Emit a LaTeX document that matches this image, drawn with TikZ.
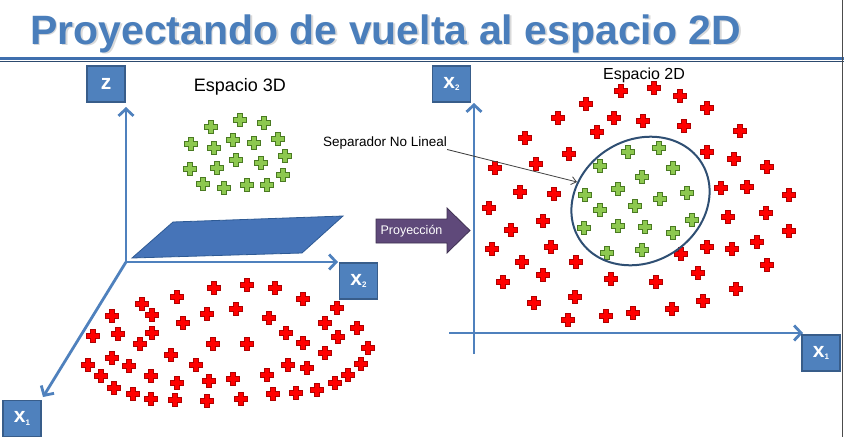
\documentclass[tikz,border=0pt]{standalone}
\usepackage{fontspec}
\setmainfont{Liberation Sans}
\usetikzlibrary{arrows.meta}
\definecolor{tblue}{HTML}{4A7EBB}
\definecolor{boxblue}{HTML}{4F81BD}
\definecolor{boxedge}{HTML}{385D8A}
\definecolor{axblue}{HTML}{4F81BD}
\definecolor{planeblue}{HTML}{4674B8}
\definecolor{planeedge}{HTML}{2E5A94}
\definecolor{purp}{HTML}{5F497A}
\definecolor{purpedge}{HTML}{3F3151}
\definecolor{rdark}{HTML}{B00000}
\definecolor{glight}{HTML}{8DC84F}
\definecolor{gdark}{HTML}{4A7A22}
\definecolor{elledge}{HTML}{2F4F73}
\definecolor{hline}{HTML}{3F6FAE}
\begin{document}
\begin{tikzpicture}[x=1pt,y=-1pt,
  axisbox/.style={draw=boxedge, fill=boxblue, line width=1.2pt, minimum width=38pt, minimum height=36pt, inner sep=0pt, text=white, font=\fontsize{21}{21}\selectfont\bfseries},
  axisline/.style={draw=axblue, line width=2.8pt, -{Straight Barb[length=7pt,width=15pt]}},
  lbl/.style={inner sep=0pt, text=black},
  rplus/.pic={\path[draw=rdark, fill=red, line width=0.7pt] (-2.3,-6.2) -- (2.3,-6.2) -- (2.3,-2.3) -- (6.2,-2.3) -- (6.2,2.3) -- (2.3,2.3) -- (2.3,6.2) -- (-2.3,6.2) -- (-2.3,2.3) -- (-6.2,2.3) -- (-6.2,-2.3) -- (-2.3,-2.3) -- cycle;},
  gplus/.pic={\path[draw=gdark, fill=glight, line width=0.8pt] (-2.2,-6.2) -- (2.2,-6.2) -- (2.2,-2.2) -- (6.2,-2.2) -- (6.2,2.2) -- (2.2,2.2) -- (2.2,6.2) -- (-2.2,6.2) -- (-2.2,2.2) -- (-6.2,2.2) -- (-6.2,-2.2) -- (-2.2,-2.2) -- cycle;}
]
\useasboundingbox (0,0) rectangle (844,437);
\fill[white] (0,0) rectangle (844,437);

% title
\node[anchor=base west, inner sep=0pt, font=\fontsize{41}{41}\selectfont\bfseries, text=gray!30] (titleshadow) at (31.6,45.6) {Proyectando de vuelta al espacio 2D};
\node[anchor=base west, inner sep=0pt, font=\fontsize{41}{41}\selectfont\bfseries, text=tblue] (title) at (30,44) {Proyectando de vuelta al espacio 2D};
\draw[hline, line width=2.3pt] (0,58.5) -- (844,58.5);
\draw[boxedge!80!black, line width=0.9pt] (0,61.8) -- (844,61.8);
\draw[gray!60!black, line width=0.8pt] (842.8,0) -- (842.8,437);

% ---------- 3D space ----------
\fill[planeblue, draw=planeedge, line width=0.8pt] (132,258) -- (173,222) -- (343,216) -- (302,253) -- cycle;

\coordinate (o3) at (126,262);
\coordinate (zt) at (126,107);
\coordinate (x2t) at (338,262);
\coordinate (x1t) at (43,397);
\draw[axisline] (o3) -- (zt);
\draw[axisline] (o3) -- (x2t);
\draw[axisline] (o3) -- (x1t);

\node[axisbox] (zbox) at (106,84) {z};
\node[axisbox] (x2box3) at (358.5,281) {x\raisebox{-0.25ex}{\fontsize{8}{8}\selectfont 2}};
\node[axisbox] (x1box3) at (22,418.5) {x\raisebox{-0.25ex}{\fontsize{8}{8}\selectfont 1}};

\node[lbl, font=\fontsize{18}{18}\selectfont] (esp3) at (240,87) {Espacio 3D};

\foreach \a/\b in {211/127,240/120,264/123,191/144,214/148,233/140,254/143,278/139,285/156,190/169,217/168,236/160,261/163,283/175,203/184,224/188,247/185,267/185}
  \pic at (\a,\b) {gplus};

\foreach \a/\b in {214/288,247/285,275/288,177/297,142/304,303/299,337/308,112/316,152/315,207/314,236/309,269/318,183/323,325/323,357/328,93/336,118/334,152/333,286/333,338/337,140/344,213/344,247/344,303/343,368/348,171/355,325/353,88/365,112/358,129/366,196/365,288/365,307/368,361/364,101/376,151/376,177/383,209/381,233/379,267/375,348/375,114/388,133/394,151/399,175/400,207/401,241/399,273/394,296/393,317/390,335/383}
  \pic at (\a,\b) {rplus};

% ---------- projection arrow ----------
\fill[purp, draw=purpedge, line width=0.8pt] (376,219) -- (447,219) -- (447,208) -- (470,230.5) -- (447,253) -- (447,243) -- (376,243) -- cycle;
\node[inner sep=0pt, text=white, font=\fontsize{12.5}{12.5}\selectfont] (proy) at (411.5,231) {Proyección};

% ---------- 2D space ----------
\coordinate (v0) at (474,354);
\coordinate (vt) at (474,103);
\coordinate (h0) at (449,333);
\coordinate (ht) at (803,333);
\draw[axisline] (v0) -- (vt);
\draw[axisline] (h0) -- (ht);

\node[axisbox] (x2box2) at (451.5,84) {x\raisebox{-0.25ex}{\fontsize{8}{8}\selectfont 2}};
\node[axisbox] (x1box2) at (821,353) {x\raisebox{-0.25ex}{\fontsize{8}{8}\selectfont 1}};

\node[lbl, font=\fontsize{16}{16}\selectfont] (esp2) at (644,75) {Espacio 2D};

\foreach \a/\b in {621/91,654/88,680/96,586/104,707/108,558/118,614/118,643/121,684/126,597/132,740/131,525/138,569/154,707/152,734/159,495/168,536/164,767/167,520/192,554/194,721/188,747/187,789/195,489/208,543/221,728/217,766/213,511/230,789/231,492/249,551/247,681/254,707/247,732/249,757/242,522/262,576/262,767/265,698/273,503/282,543/275,611/279,656/282,534/303,575/297,736/289,568/320,606/316,633/313,672/309,703/301}
  \pic at (\a,\b) {rplus};

\foreach \a/\b in {628/152,659/148,600/166,673/168,642/177,618/189,585/195,687/193,660/199,635/206,600/210,692/220,584/228,618/226,645/227,673/233,607/253,642/250}
  \pic at (\a,\b) {gplus};

\draw[elledge, line width=2pt] (640.5,201) ellipse [x radius=72, y radius=61, rotate=32];

\node[lbl, font=\fontsize{13.5}{13.5}\selectfont] (sep) at (385,143) {Separador No Lineal};
\coordinate (ellpt) at (577,182);
\draw[black!75, line width=0.8pt, -{Straight Barb[length=5pt,width=8pt]}] (sep.south east) -- (ellpt);

\end{tikzpicture}
\end{document}
